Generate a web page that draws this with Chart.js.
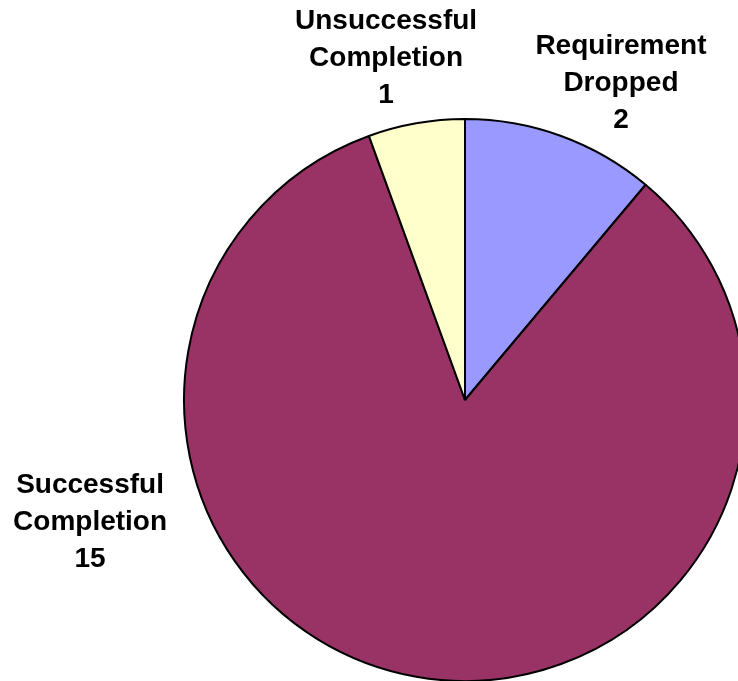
<!DOCTYPE html>
<html>
<head>
<meta charset="utf-8">
<title>Completion status</title>
<script src="https://cdn.jsdelivr.net/npm/chart.js@4"></script>
<style>
    html, body { margin: 0; padding: 0; background: #ffffff; overflow: hidden; }
    #chart { display: block; }
</style>
</head>
<body>
<canvas id="chart" width="760" height="681"></canvas>
<script>
// Data
const categories = ['Requirement Dropped', 'Successful Completion', 'Unsuccessful Completion'];
const counts = [2, 15, 1];
const sliceColors = ['#9999FF', '#993366', '#FFFFCC'];

// Label placement: angle clockwise from 12 o'clock (deg), distance as share of the radius
const labelAngles = [26.2, 252, -13];
const labelDistances = [1.257, 1.403, 1.249];

// Outside labels, Excel style: category words over the value
const pieLabels = {
    id: 'pieLabels',
    afterDatasetsDraw(chart) {
        const ctx = chart.ctx;
        const meta = chart.getDatasetMeta(0);
        ctx.save();
        ctx.font = 'bold 28px "Liberation Sans", Arial, sans-serif';
        ctx.fillStyle = '#000000';
        ctx.textAlign = 'center';
        ctx.textBaseline = 'middle';
        meta.data.forEach((arc, i) => {
            const { x, y, outerRadius } = arc.getProps(['x', 'y', 'outerRadius'], true);
            const a = labelAngles[i] * Math.PI / 180;
            const d = outerRadius * labelDistances[i];
            const lx = x + Math.sin(a) * d;
            const ly = y - Math.cos(a) * d;
            const lines = categories[i].split(' ').concat(String(counts[i]));
            const lineHeight = 37;
            const top = ly - (lines.length - 1) * lineHeight / 2;
            lines.forEach((line, j) => {
                ctx.fillText(line, lx, top + j * lineHeight);
            });
        });
        ctx.restore();
    }
};

const ctx = document.getElementById('chart').getContext('2d');
const chart = new Chart(ctx, {
    type: 'pie',
    data: {
        labels: categories,
        datasets: [{
            data: counts,
            backgroundColor: sliceColors,
            borderColor: '#000000',
            borderWidth: 2
        }]
    },
    options: {
        responsive: false,
        animation: false,
        radius: 281,
        layout: {
            padding: { left: 184, right: 14, top: 119, bottom: 0 }
        },
        plugins: {
            legend: { display: false },
            tooltip: { enabled: false }
        }
    },
    plugins: [pieLabels]
});
</script>
</body>
</html>
